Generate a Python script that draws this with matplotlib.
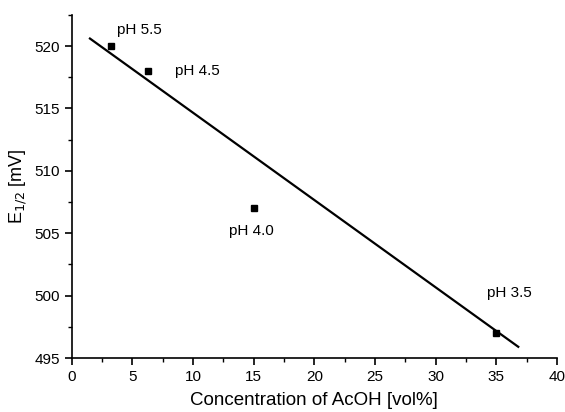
import matplotlib
matplotlib.use('Agg')
import matplotlib.pyplot as plt
from matplotlib.ticker import MultipleLocator

plt.rcParams['font.family'] = ['Liberation Sans', 'DejaVu Sans']

# measured points
acoh = [3.2, 6.3, 15.0, 35.0]
e_half = [520.0, 518.0, 507.0, 497.0]
ph_labels = ['pH 5.5', 'pH 4.5', 'pH 4.0', 'pH 3.5']
label_x = [3.7, 8.5, 13.0, 34.2]
label_y = [521.3, 518.0, 505.2, 500.2]

# drawn regression line
fit_x = [1.5, 36.8]
fit_y = [520.6, 495.9]

fig = plt.figure(figsize=(5.65, 4.12), dpi=100)
ax = fig.add_axes([0.127, 0.131, 0.859, 0.833])

ax.plot(fit_x, fit_y, color='black', lw=1.6)
ax.plot(acoh, e_half, 's', color='black', ms=5)

for x, y, t in zip(label_x, label_y, ph_labels):
    ax.text(x, y, t, fontsize=11, va='center', ha='left')

ax.set_xlim(0, 40)
ax.set_ylim(495, 522.5)
ax.xaxis.set_major_locator(MultipleLocator(5))
ax.xaxis.set_minor_locator(MultipleLocator(2.5))
ax.yaxis.set_major_locator(MultipleLocator(5))
ax.yaxis.set_minor_locator(MultipleLocator(2.5))

ax.spines['top'].set_visible(False)
ax.spines['right'].set_visible(False)
ax.spines['left'].set_linewidth(1.2)
ax.spines['bottom'].set_linewidth(1.2)
ax.tick_params(which='major', direction='out', length=5, width=1.2, labelsize=11)
ax.tick_params(which='minor', direction='out', length=3, width=1)

ax.set_xlabel('Concentration of AcOH [vol%]', fontsize=13.5, labelpad=6)
ax.set_ylabel('E$_{1/2}$ [mV]', fontsize=13, labelpad=4)

fig.savefig('out.png', dpi=100)
